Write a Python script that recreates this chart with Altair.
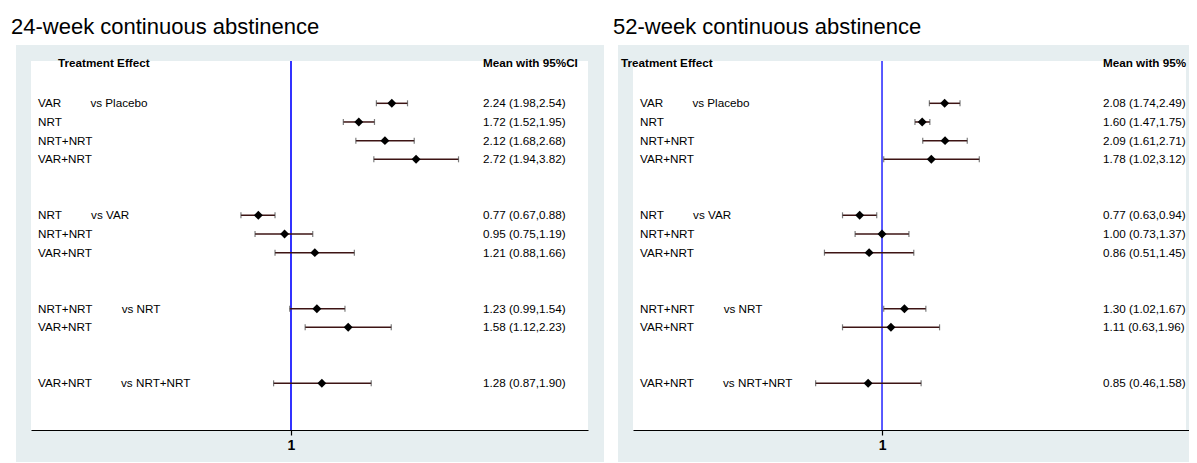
import altair as alt
import pandas as pd

FONT = "Liberation Sans, Arial, Helvetica, sans-serif"

# ---- data ----
treatments = ["VAR", "NRT", "NRT+NRT", "VAR+NRT",
              "NRT", "NRT+NRT", "VAR+NRT",
              "NRT+NRT", "VAR+NRT",
              "VAR+NRT"]
groups = [0, 0, 0, 0, 1, 1, 1, 2, 2, 3]
comparators = ["Placebo", "VAR", "NRT", "NRT+NRT"]

titles = ["24-week continuous abstinence", "52-week continuous abstinence"]

mean_24 = [2.24, 1.72, 2.12, 2.72, 0.77, 0.95, 1.21, 1.23, 1.58, 1.28]
low_24 = [1.98, 1.52, 1.68, 1.94, 0.67, 0.75, 0.88, 0.99, 1.12, 0.87]
high_24 = [2.54, 1.95, 2.68, 3.82, 0.88, 1.19, 1.66, 1.54, 2.23, 1.90]

mean_52 = [2.08, 1.60, 2.09, 1.78, 0.77, 1.00, 0.86, 1.30, 1.11, 0.85]
low_52 = [1.74, 1.47, 1.61, 1.02, 0.63, 0.73, 0.51, 1.02, 0.63, 0.46]
high_52 = [2.49, 1.75, 2.71, 3.12, 0.94, 1.37, 1.45, 1.67, 1.96, 1.58]

header_left = "Treatment Effect"
header_right = "Mean with 95%CI"

GAP = "\u00a0" * 9
LIGHT = "#e6eef0"
H = 369


def build_rows(mean, low, high):
    rows = []
    seen = set()
    for i, (t, g, m, l, h) in enumerate(zip(treatments, groups, mean, low, high)):
        label = t
        if g not in seen:
            label = t + GAP + "vs " + comparators[g]
            seen.add(g)
        rows.append({
            "row": i + 2 + 2 * g,
            "label": label,
            "mean": m, "lo": l, "hi": h,
            "ci": f"{m:.2f} ({l:.2f},{h:.2f})",
        })
    return pd.DataFrame(rows)


def panel(title, mean, low, high, width, white_w, xdomain, head_x, val_x, box_right,
          ref_width, add_bound, head_limit):
    df = build_rows(mean, low, high)
    one = pd.DataFrame({"title": [title], "h1": [header_left], "h2": [header_right]})

    xscale = alt.Scale(type="log", domain=xdomain, nice=False)
    yscale = alt.Scale(domain=[19.5, -0.266], nice=False, zero=False)
    xaxis = alt.Axis(values=[1], format=".0f", title=None, grid=False,
                     domainColor="black", domainWidth=1.2, tickColor="black",
                     tickSize=5, tickWidth=1.2, labelFontSize=14, labelFontWeight="bold",
                     labelColor="black", labelFont=FONT, labelPadding=3, zindex=1)
    Y = alt.Y("row:Q", scale=yscale, axis=None)

    base = alt.Chart(df)
    single = alt.Chart(one)

    layers = []
    if add_bound:
        layers.append(single.mark_rect(opacity=0).encode(
            x=alt.value(-23), x2=alt.value(0), y=alt.value(-53), y2=alt.value(0)))
    layers.append(single.mark_rect(color=LIGHT).encode(
        x=alt.value(-15), x2=alt.value(box_right), y=alt.value(-16), y2=alt.value(H + 32)))
    layers.append(single.mark_rect(color="white").encode(
        x=alt.value(0), x2=alt.value(white_w), y=alt.value(0), y2=alt.value(H)))
    layers.append(single.mark_rule(color="#0000ff", strokeWidth=ref_width).encode(
        x=alt.datum(1, scale=xscale, axis=xaxis)))
    layers.append(base.mark_rule(color="#3d1414", strokeWidth=1.5).encode(
        x=alt.X("lo:Q", scale=xscale, axis=xaxis), x2="hi:Q", y=Y))
    layers.append(base.transform_fold(["lo", "hi"], as_=["end", "v"]).mark_tick(
        orient="vertical", size=6, thickness=1.2, color="#444444").encode(
        x=alt.X("v:Q", scale=xscale, axis=xaxis), y=Y))
    layers.append(base.mark_point(shape="diamond", filled=True, size=80,
                                  color="black", opacity=1).encode(
        x=alt.X("mean:Q", scale=xscale, axis=xaxis), y=Y))
    layers.append(base.mark_text(align="left", baseline="middle", font=FONT,
                                 fontSize=11.7, color="black").encode(
        x=alt.value(7), y=Y, text="label:N"))
    layers.append(base.mark_text(align="left", baseline="middle", font=FONT,
                                 fontSize=11.7, color="black").encode(
        x=alt.value(val_x), y=Y, text="ci:N"))
    layers.append(single.mark_text(align="left", baseline="middle", font=FONT,
                                   fontSize=11.7, fontWeight="bold", color="black").encode(
        x=alt.value(head_x), y=alt.value(2), text="h1:N"))
    head_kw = dict(align="left", baseline="middle", font=FONT, fontSize=11.7,
                   fontWeight="bold", color="black")
    if head_limit:
        head_kw.update(limit=head_limit, ellipsis="\u200b")
    layers.append(single.mark_text(**head_kw).encode(
        x=alt.value(val_x), y=alt.value(2), text="h2:N"))
    layers.append(single.mark_text(align="left", baseline="alphabetic", font=FONT,
                                   fontSize=22, color="black").encode(
        x=alt.value(-20), y=alt.value(-27), text="title:N"))

    return alt.layer(*layers).properties(width=width, height=H)


left = panel(titles[0], mean_24, low_24, high_24, 557, 557, [0.12493, 10.762],
             27, 452, 573, 1.6, True, None)
right = panel(titles[1], mean_52, low_52, high_52, 556, 553, [0.05434, 36.25],
              -12, 470, 556, 1.3, False, 86)

chart = alt.hconcat(left, right, spacing=45, bounds="flush").resolve_scale(
    x="independent", y="independent"
).properties(padding=0).configure_view(stroke=None, fill=None)

chart.save("out.html", embed_options={"renderer": "svg", "actions": False})
